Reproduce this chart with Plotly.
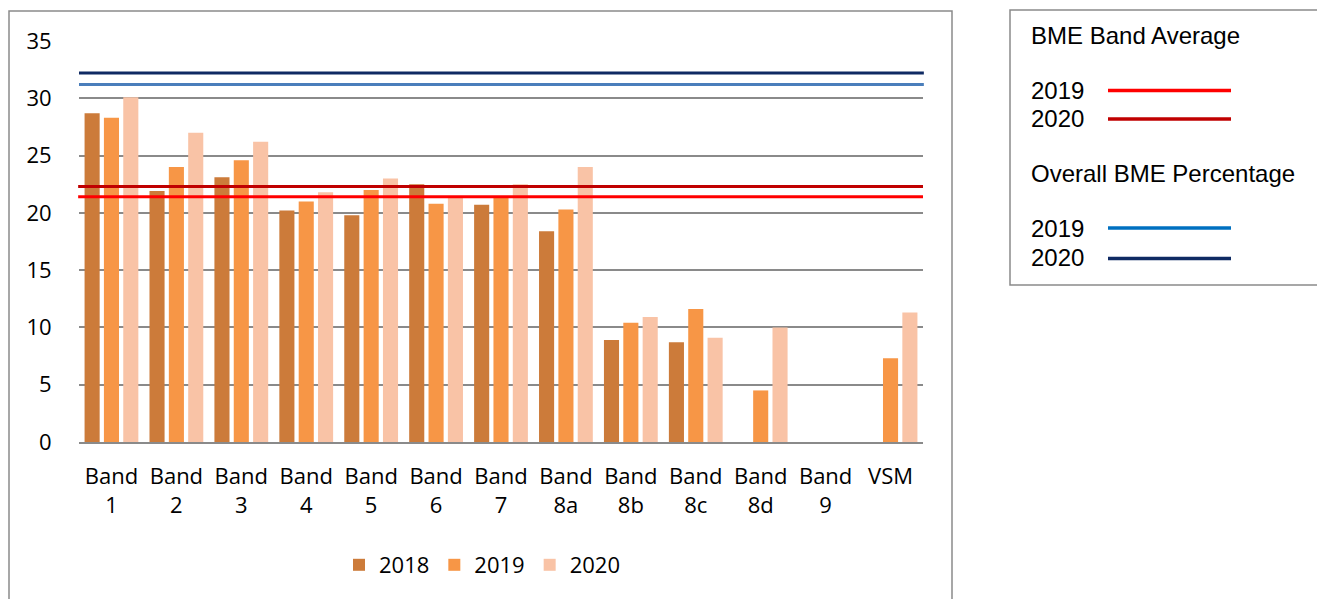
import plotly.graph_objects as go

# BME share of staff by pay band (%)
categories = ["Band 1", "Band 2", "Band 3", "Band 4", "Band 5", "Band 6", "Band 7",
              "Band 8a", "Band 8b", "Band 8c", "Band 8d", "Band 9", "VSM"]
years = ["2018", "2019", "2020"]
values_2018 = [28.7, 21.9, 23.1, 20.2, 19.8, 22.5, 20.7, 18.4, 8.9, 8.7, None, None, None]
values_2019 = [28.3, 24.0, 24.6, 21.0, 22.0, 20.8, 21.4, 20.3, 10.4, 11.6, 4.5, None, 7.3]
values_2020 = [30.1, 27.0, 26.2, 21.8, 23.0, 21.4, 22.5, 24.0, 10.9, 9.1, 10.0, None, 11.3]

# Reference levels
band_average = {"2019": 21.4, "2020": 22.3}
overall_percentage = {"2019": 31.2, "2020": 32.2}

bar_colors = {"2018": "#CC7B3A", "2019": "#F79646", "2020": "#F9C3A6"}
band_avg_colors = {"2019": "#FF0000", "2020": "#C00000"}
overall_colors = {"2019": "#4A7EBB", "2020": "#0F2A63"}
overall_key_colors = {"2019": "#0070C0", "2020": "#0F2A63"}

tick_font = dict(family="'Open Sans', 'Noto Sans', sans-serif", size=22, color="#000000")
key_font = dict(family="'Liberation Sans', Arial, sans-serif", size=24, color="#000000")
grid_color = "#8A8A8A"

fig = go.Figure()
for yr, vals in zip(years, [values_2018, values_2019, values_2020]):
    fig.add_trace(go.Bar(
        name=yr, x=categories, y=vals,
        marker=dict(color=bar_colors[yr], line=dict(width=0)),
    ))

W, H = 1317, 599
L, R, T, B = 79, 394, 41, 157
pw, ph = W - L - R, H - T - B


def px(x):
    return (x - L) / pw


def py(y):
    return (H - B - y) / ph


shapes = []
# Horizontal reference lines across the plot area
for yr in ["2020", "2019"]:
    shapes.append(dict(type="line", xref="paper", yref="y", x0=0, x1=1.001,
                       y0=overall_percentage[yr], y1=overall_percentage[yr],
                       line=dict(color=overall_colors[yr], width=3)))
for yr in ["2020", "2019"]:
    shapes.append(dict(type="line", xref="paper", yref="y", x0=-0.001, x1=1,
                       y0=band_average[yr], y1=band_average[yr],
                       line=dict(color=band_avg_colors[yr], width=3)))

# Chart frame
shapes.append(dict(type="rect", xref="paper", yref="paper",
                   x0=px(9), x1=px(952), y0=py(640), y1=py(11),
                   line=dict(color="#8A8A8A", width=1.5), layer="below"))
# Key box on the right
shapes.append(dict(type="rect", xref="paper", yref="paper",
                   x0=px(1010), x1=px(1330), y0=py(285), y1=py(10),
                   line=dict(color="#8A8A8A", width=1.5)))

annotations = []


def key_text(text, y):
    annotations.append(dict(text=text, xref="paper", yref="paper", x=px(1029), y=py(y),
                            xanchor="left", yanchor="middle", showarrow=False, font=key_font))


def key_line(color, y):
    shapes.append(dict(type="line", xref="paper", yref="paper", x0=px(1108), x1=px(1231),
                       y0=py(y), y1=py(y), line=dict(color=color, width=3.5)))


key_text("BME Band Average", 35)
key_text("2019", 90)
key_line(band_avg_colors["2019"], 90.5)
key_text("2020", 118)
key_line(band_avg_colors["2020"], 119)
key_text("Overall BME Percentage", 173)
key_text("2019", 228)
key_line(overall_key_colors["2019"], 228)
key_text("2020", 257)
key_line(overall_key_colors["2020"], 258.5)

fig.update_layout(
    width=W, height=H,
    margin=dict(l=L, r=R, t=T, b=B, pad=0),
    paper_bgcolor="white", plot_bgcolor="white",
    barmode="group", bargap=0.106, bargroupgap=0.22,
    showlegend=True,
    legend=dict(orientation="h", x=px(482), xanchor="center", y=py(565), yanchor="middle",
                font=tick_font, bgcolor="rgba(0,0,0,0)", traceorder="normal"),
    shapes=shapes, annotations=annotations,
)
fig.update_xaxes(
    type="category",
    tickmode="array", tickvals=categories,
    ticktext=[c.replace(" ", "<br>") for c in categories],
    tickfont=tick_font, tickangle=0,
    showline=True, linecolor=grid_color, linewidth=2,
    ticks="outside", ticklen=14, tickcolor="rgba(0,0,0,0)",
    showgrid=False,
)
fig.update_yaxes(
    range=[0, 35], dtick=5, tick0=0,
    tickfont=tick_font,
    showgrid=True, gridcolor=grid_color, gridwidth=1.5,
    zeroline=False, showline=False,
    ticks="outside", ticklen=22, tickcolor="rgba(0,0,0,0)",
)

fig.write_html("out.html")
